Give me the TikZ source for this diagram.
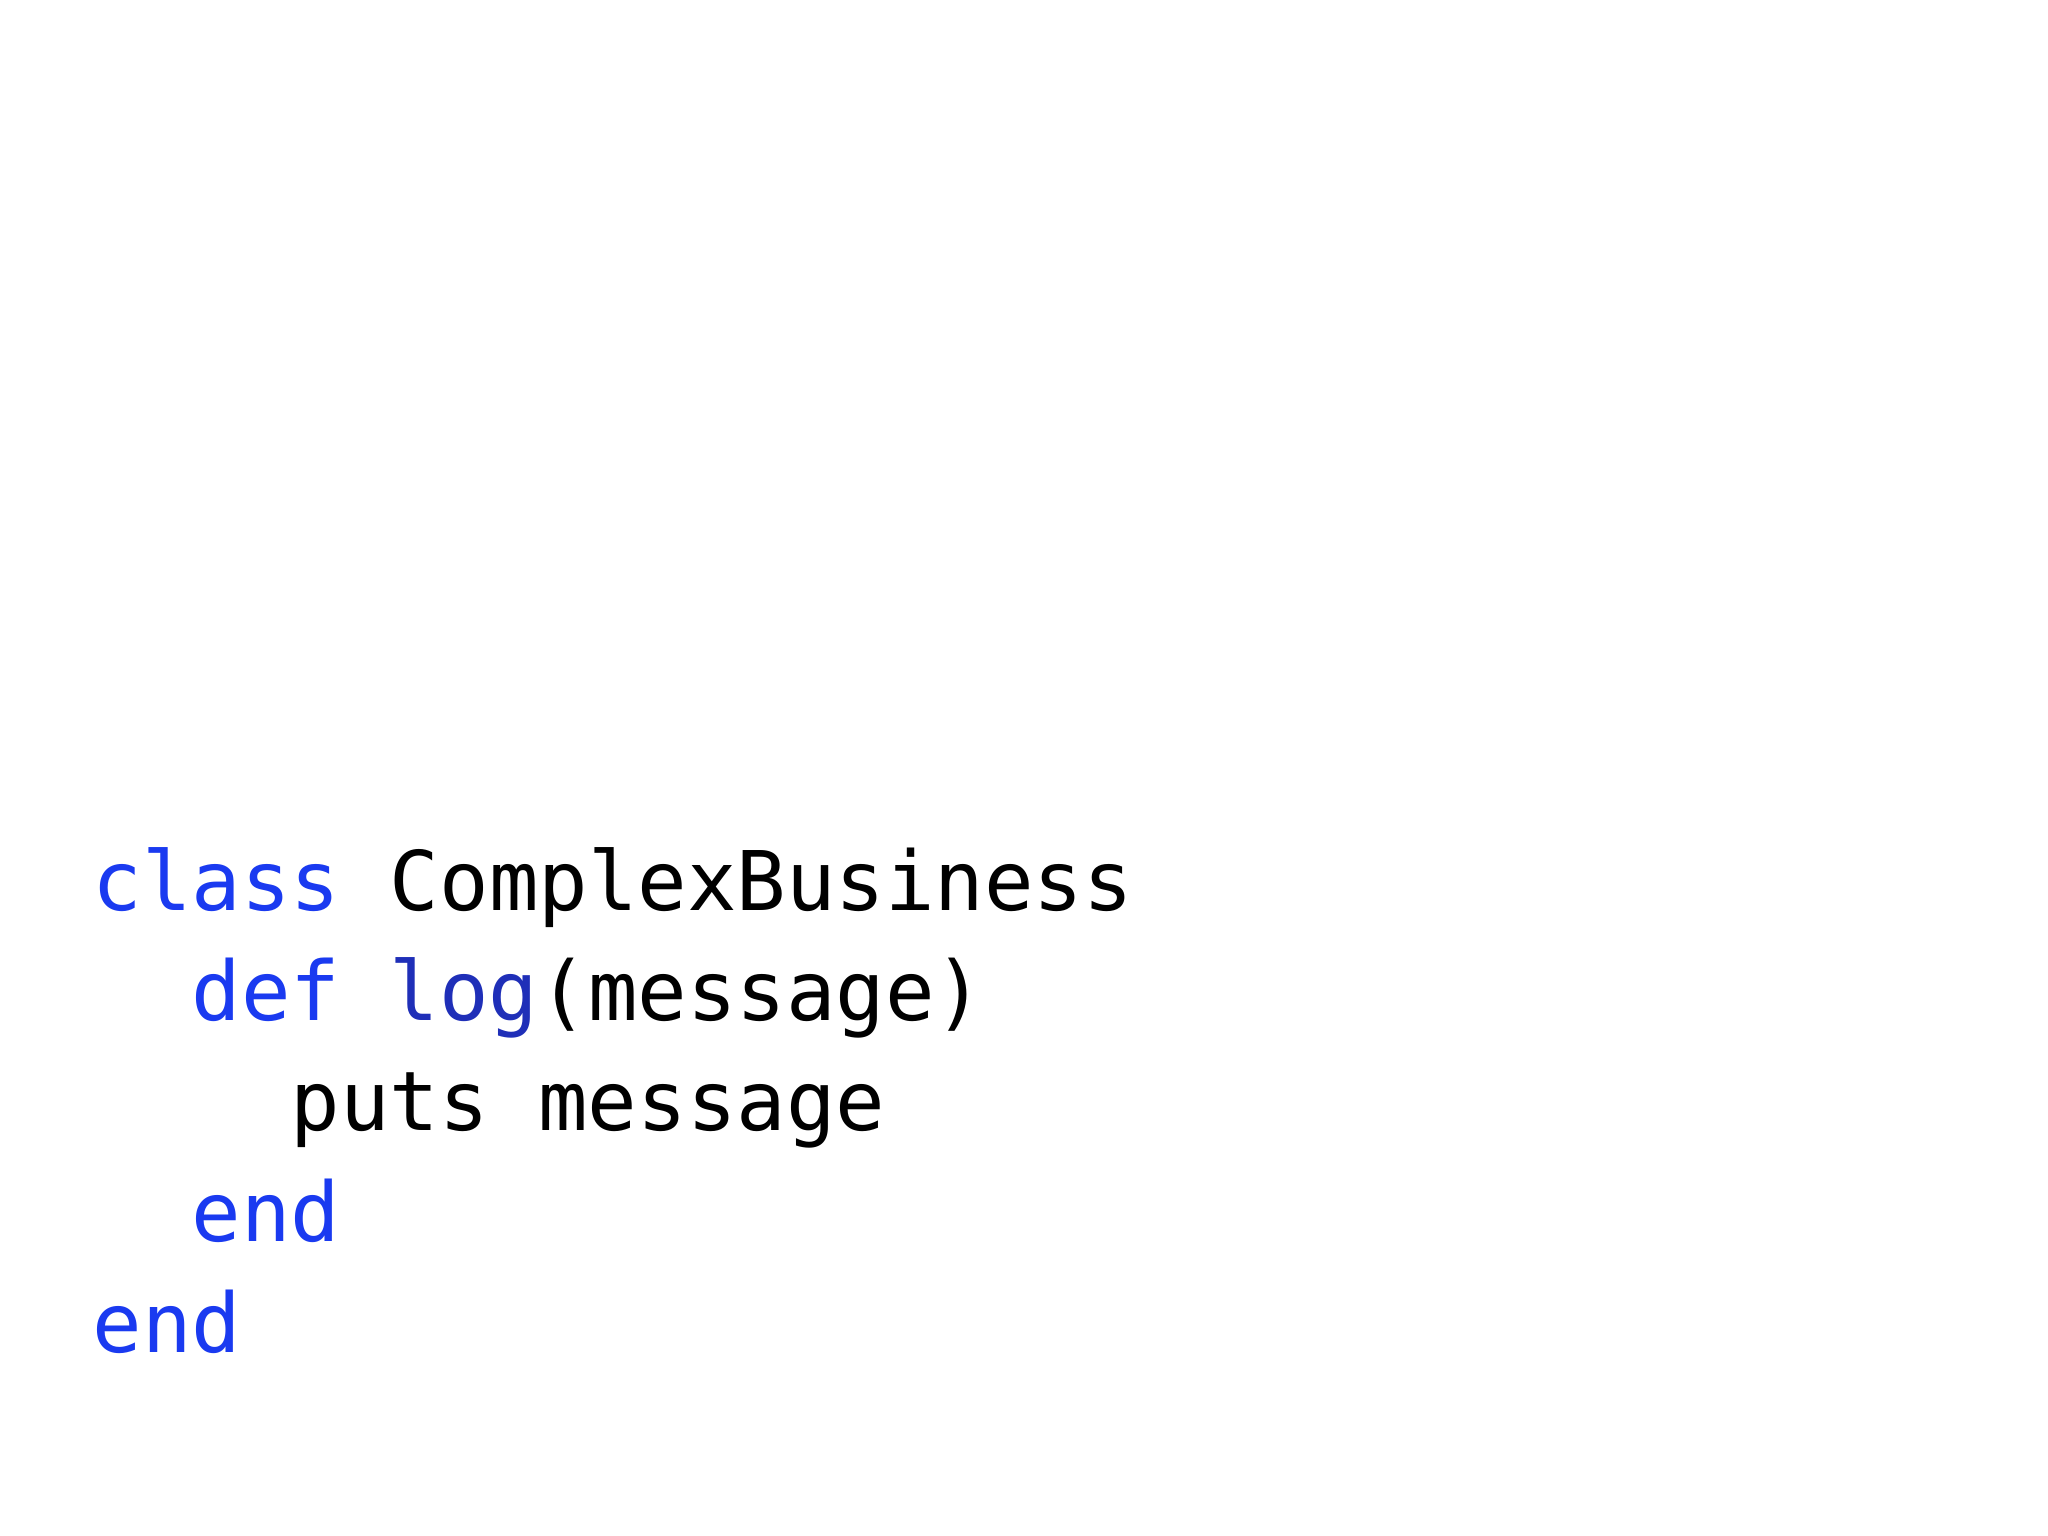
\documentclass[tikz,border=0pt]{standalone}
\usepackage{fontspec}
\setmonofont{DejaVu Sans Mono}
\definecolor{kw}{HTML}{1A3AF0}
\definecolor{fn}{HTML}{1F2FB8}
\begin{document}
\begin{tikzpicture}[x=0.01cm,y=-0.01cm,
  code/.style={anchor=base west,inner sep=0pt,font=\ttfamily\fontsize{23.4}{28}\selectfont}]
\useasboundingbox (0,0) rectangle (2048,1536);
\fill[white] (0,0) rectangle (2048,1536);
\node[code] (l1) at (92,910) {\textcolor{kw}{class} ComplexBusiness};
\node[code] (l2) at (191,1020) {\textcolor{kw}{def} \textcolor{fn}{log}(message)};
\node[code] (l3) at (290,1130) {puts message};
\node[code] (l4) at (191,1241) {\textcolor{kw}{end}};
\node[code] (l5) at (92,1352) {\textcolor{kw}{end}};
\end{tikzpicture}
\end{document}
